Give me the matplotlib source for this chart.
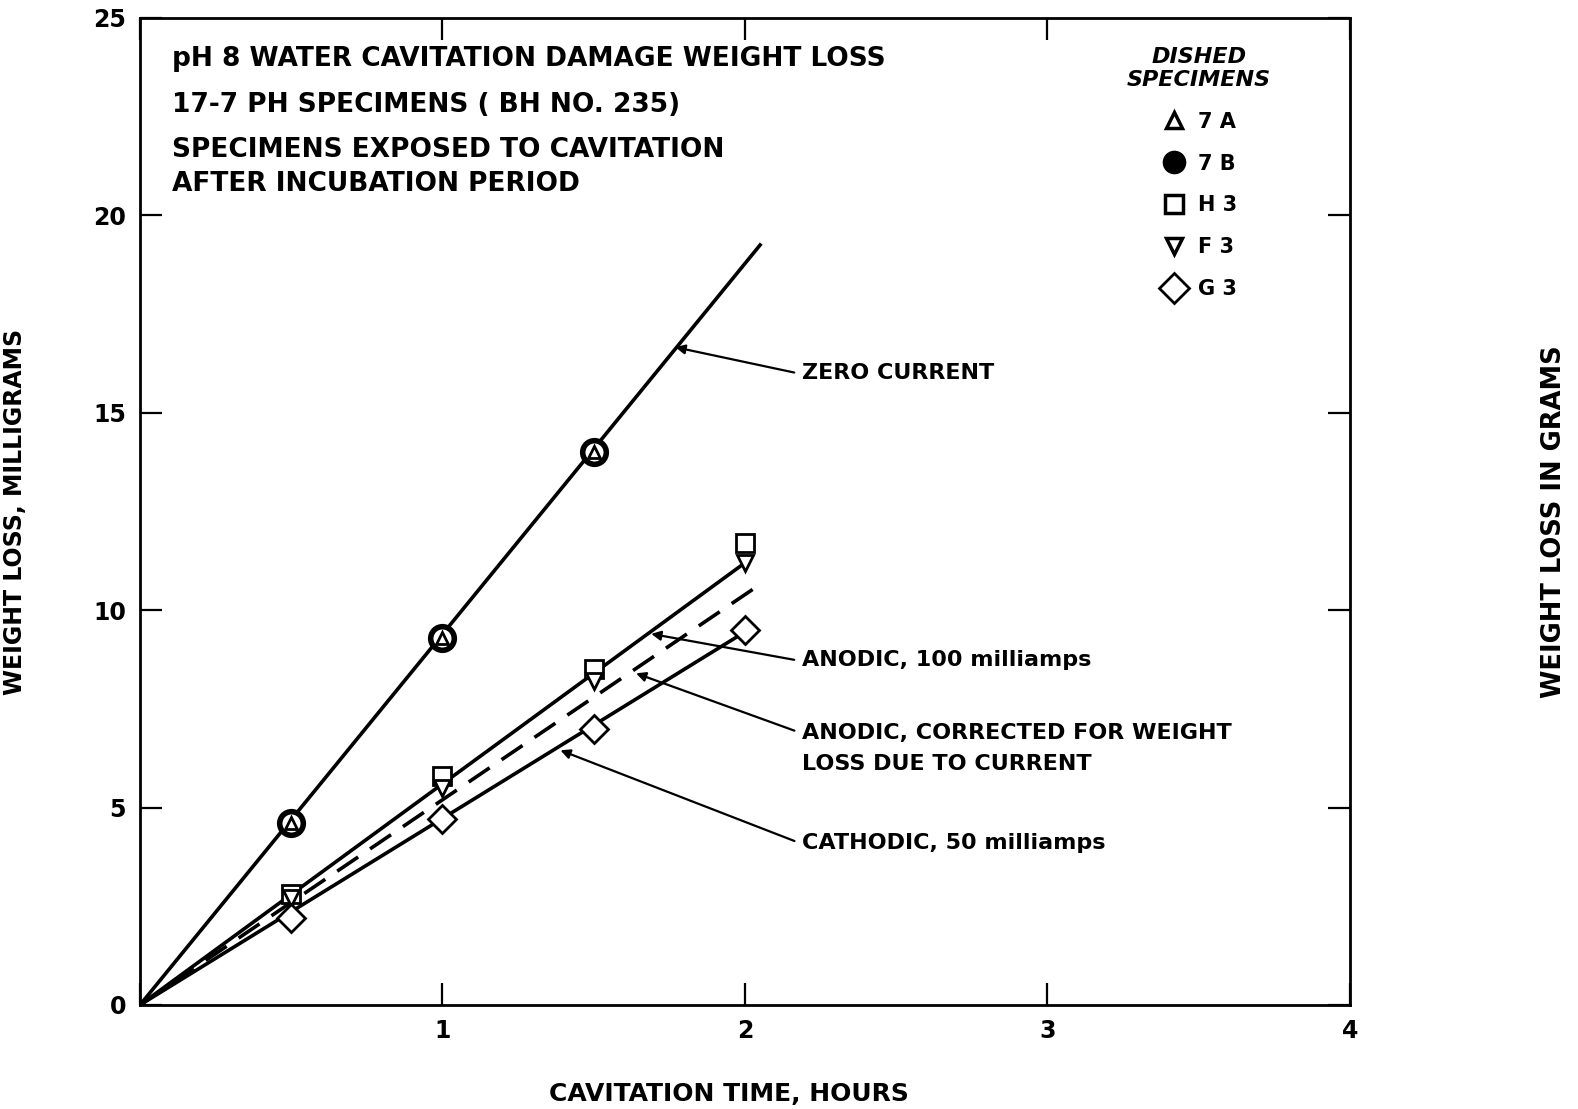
import matplotlib
matplotlib.use("Agg")
import matplotlib.pyplot as plt
from matplotlib.lines import Line2D

plt.rcParams['font.family'] = ['DejaVu Sans']

# data (hours, milligrams)
t_pts = [0.5, 1.0, 1.5, 2.0]
t_zero = [0.5, 1.0, 1.5]
spec_7a = [4.6, 9.3, 14.0]
spec_7b = [4.6, 9.3, 14.0]
spec_h3 = [2.8, 5.8, 8.5, 11.7]
spec_f3 = [2.7, 5.5, 8.2, 11.2]
spec_g3 = [2.2, 4.7, 7.0, 9.5]

# fitted lines (start, end)
zero_x, zero_y = [0, 2.05], [0, 19.25]
anodic_x, anodic_y = [0, 2.0], [0, 11.2]
corr_x, corr_y = [0, 2.03], [0, 10.55]
cath_x, cath_y = [0, 2.0], [0, 9.45]

xticks = [0, 1, 2, 3, 4]
xtick_labels = ['', '1', '2', '3', '4']
yticks = [0, 5, 10, 15, 20, 25]

fig = plt.figure(figsize=(15.78, 11.09), dpi=100)
ax = fig.add_axes([0.0887, 0.0938, 0.7668, 0.89])

lw = 2.6
ax.plot(zero_x, zero_y, color='black', lw=lw)
ax.plot(anodic_x, anodic_y, color='black', lw=lw)
ax.plot(corr_x, corr_y, color='black', lw=lw, dashes=(7, 4))
ax.plot(cath_x, cath_y, color='black', lw=lw)

# 7A and 7B coincide: ring with small triangle inside
ax.plot(t_zero, spec_7b, 'o', ms=17, mfc='white', mec='black', mew=4, ls='none')
ax.plot(t_zero, spec_7a, '^', ms=8, mfc='white', mec='black', mew=2, ls='none')
ax.plot(t_pts, spec_h3, 's', ms=13, mfc='white', mec='black', mew=2, ls='none')
ax.plot(t_pts, spec_f3, 'v', ms=12, mfc='white', mec='black', mew=2, ls='none')
ax.plot(t_pts, spec_g3, 'D', ms=14, mfc='white', mec='black', mew=2, ls='none')

ax.set_xlim(0, 4)
ax.set_ylim(0, 25)
ax.set_xticks(xticks)
ax.set_xticklabels(xtick_labels)
ax.set_yticks(yticks)
ax.tick_params(direction='in', length=16, width=1.6, top=True, right=True,
               labelsize=17, pad=10)
for lab in ax.get_xticklabels() + ax.get_yticklabels():
    lab.set_fontweight('bold')
for s in ax.spines.values():
    s.set_linewidth(2)

ax.set_xlabel('CAVITATION TIME, HOURS', fontsize=18, fontweight='bold', labelpad=30)
ax.xaxis.set_label_coords(0.487, -0.078)
ax.set_ylabel('WEIGHT LOSS, MILLIGRAMS', fontsize=17, fontweight='bold')
ax.yaxis.set_label_coords(-0.093, 0.5)
fig.text(0.985, 0.53, 'WEIGHT LOSS IN GRAMS', rotation=90, fontsize=18.5,
         fontweight='bold', ha='center', va='center')

# header text
fs = 19
ax.text(0.105, 23.95, 'pH 8 WATER CAVITATION DAMAGE WEIGHT LOSS', fontsize=fs,
        fontweight='bold', va='center')
ax.text(0.105, 22.8, '17-7 PH SPECIMENS ( BH NO. 235)', fontsize=fs,
        fontweight='bold', va='center')
ax.text(0.105, 21.65, 'SPECIMENS EXPOSED TO CAVITATION', fontsize=fs,
        fontweight='bold', va='center')
ax.text(0.105, 20.8, 'AFTER INCUBATION PERIOD', fontsize=fs,
        fontweight='bold', va='center')

# legend
handles = [
    Line2D([], [], marker='^', ms=11, mfc='white', mec='black', mew=2.5, ls='none', label='7 A'),
    Line2D([], [], marker='o', ms=16, mfc='black', mec='black', ls='none', label='7 B'),
    Line2D([], [], marker='s', ms=13, mfc='white', mec='black', mew=2.5, ls='none', label='H 3'),
    Line2D([], [], marker='v', ms=11, mfc='white', mec='black', mew=2.5, ls='none', label='F 3'),
    Line2D([], [], marker='D', ms=15, mfc='white', mec='black', mew=2, ls='none', label='G 3'),
]
leg = ax.legend(handles=handles, title='DISHED\nSPECIMENS',
                loc='upper left', bbox_to_anchor=(0.8, 0.99), frameon=False,
                labelspacing=1.05, handletextpad=0.5, handlelength=1.3,
                prop={'weight': 'bold', 'size': 15})
leg.get_title().set_fontstyle('italic')
leg.get_title().set_fontweight('bold')
leg.get_title().set_fontsize(16)
leg.get_title().set_multialignment('center')

# callouts, leader starts at the left edge of each text
arrow = dict(arrowstyle='-|>', color='black', lw=1.6, mutation_scale=14,
             shrinkA=4, shrinkB=0, relpos=(0, 0.45))
cfs = 16
ax.annotate('ZERO CURRENT', xy=(1.77, 16.66), xytext=(2.19, 16.0),
            fontsize=cfs, fontweight='bold', va='center', arrowprops=arrow)
ax.annotate('ANODIC, 100 milliamps', xy=(1.69, 9.4), xytext=(2.19, 8.73),
            fontsize=cfs, fontweight='bold', va='center', arrowprops=arrow)
ax.annotate('ANODIC, CORRECTED FOR WEIGHT', xy=(1.64, 8.4), xytext=(2.19, 6.9),
            fontsize=cfs, fontweight='bold', va='center', arrowprops=arrow)
ax.text(2.19, 6.1, 'LOSS DUE TO CURRENT', fontsize=cfs, fontweight='bold', va='center')
ax.annotate('CATHODIC, 50 milliamps', xy=(1.39, 6.45), xytext=(2.19, 4.1),
            fontsize=cfs, fontweight='bold', va='center', arrowprops=arrow)

fig.savefig('out.png', dpi=100)
